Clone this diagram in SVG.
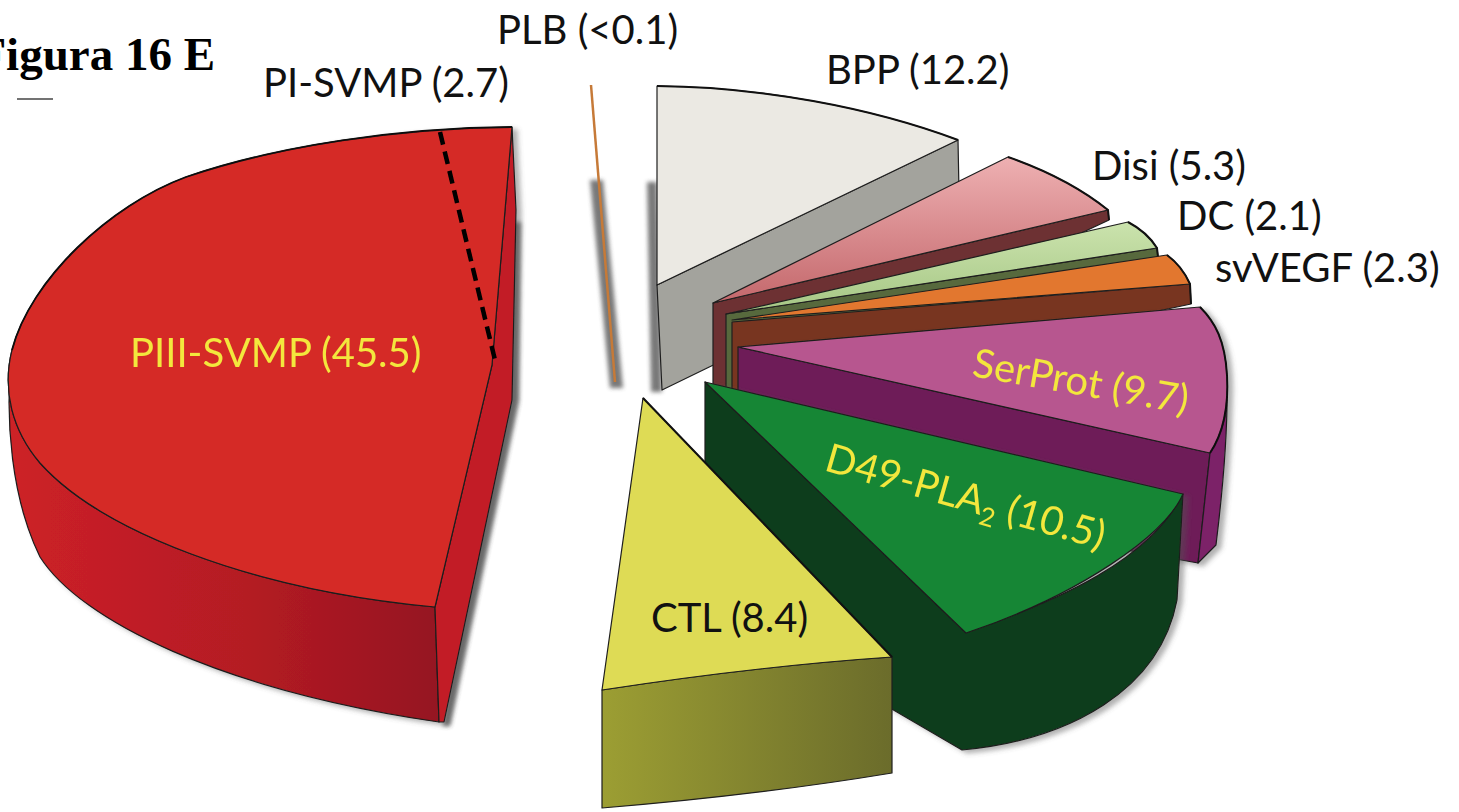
<svg xmlns="http://www.w3.org/2000/svg" width="1459" height="812" viewBox="0 0 1459 812">
<defs>
<style>
.lbl{font-family:Lato,"Open Sans","Liberation Sans",sans-serif;font-size:40px;fill:#111}
.yl{fill:#f3e73c}
.edge{stroke:#1e1e1e;stroke-width:1.2;stroke-linejoin:round}
.thick{stroke:#111;stroke-width:2;stroke-linejoin:round}
</style>
<linearGradient id="gRedWall" gradientUnits="userSpaceOnUse" x1="10" y1="0" x2="440" y2="0">
<stop offset="0" stop-color="#cd2127"/><stop offset="0.55" stop-color="#b41b24"/><stop offset="1" stop-color="#951520"/>
</linearGradient>
<linearGradient id="gCtlWall" gradientUnits="userSpaceOnUse" x1="602" y1="0" x2="892" y2="0">
<stop offset="0" stop-color="#9c9e33"/><stop offset="1" stop-color="#6b6c2b"/>
</linearGradient>
<linearGradient id="gDisi" gradientUnits="userSpaceOnUse" x1="0" y1="157" x2="0" y2="303">
<stop offset="0" stop-color="#eeb0b2"/><stop offset="1" stop-color="#c4686c"/>
</linearGradient>
<linearGradient id="gDC" gradientUnits="userSpaceOnUse" x1="0" y1="222" x2="0" y2="314">
<stop offset="0" stop-color="#cbe3ad"/><stop offset="1" stop-color="#a5c684"/>
</linearGradient>
<filter id="blur" x="-80%" y="-10%" width="260%" height="120%"><feGaussianBlur stdDeviation="2.2"/></filter>
<filter id="sh" x="-10%" y="-10%" width="125%" height="125%"><feDropShadow dx="5" dy="3" stdDeviation="2.5" flood-color="#555" flood-opacity="0.45"/></filter>
</defs>
<rect width="1459" height="812" fill="#ffffff"/>

<g id="title">
<text x="215" y="70" text-anchor="end" font-family="'Liberation Serif','Times New Roman',serif" font-weight="bold" font-size="47" fill="#000">Figura 16 E</text>
<line x1="17" y1="99" x2="53" y2="99" stroke="#444" stroke-width="1.5"/>
</g>

<g id="shadows" fill="#6a6a6a" opacity="0.9" filter="url(#blur)">
<polygon points="590,180 603,180 623,388 610,388"/>
<polygon points="647,182 657,182 662,392 651,392"/>
<polygon points="512,222 521,222 519,400 450,726 443,726"/>
</g>

<g id="slice-plb">
<line x1="591" y1="85" x2="615" y2="382" stroke="#c67a38" stroke-width="2.5"/>
<text class="lbl" x="497" y="44">PLB (&lt;0.1)</text>
</g>

<g id="slice-svmp" filter="url(#sh)">
<path class="edge" fill="url(#gRedWall)" d="M12,350 C4,420 12,500 40,557 C80,620 220,690 439,722 L435,607 C250,590 100,530 40,463 C12,430 2,390 12,350 Z"/>
<path class="edge" fill="#c21e27" d="M512,127 L516,210 L512,400 L444,722 L439,722 L435,607 L492,365 Z"/>
<path class="edge" fill="#d52b28" d="M492,365 L512,127 C400,128 280,145 186,177 C110,205 30,280 12,350 C2,390 12,430 40,463 C100,530 250,590 435,607 Z"/>
<path fill="none" stroke="#111" stroke-width="1.8" d="M512,127 C400,128 280,145 186,177 C110,205 30,280 12,350"/>
<line x1="440" y1="132" x2="495" y2="360" stroke="#000" stroke-width="4.5" stroke-dasharray="13,7"/>
<text class="lbl yl" x="130" y="367">PIII-SVMP (45.5)</text>
</g>
<text class="lbl" x="263" y="97">PI-SVMP (2.7)</text>

<g id="slice-bpp">
<path class="edge" fill="#a3a39d" d="M657,285 L958,140 L960,245 L662,390 Z"/>
<path class="edge" fill="#ebe9e3" d="M657,86 C760,87 870,107 958,140 L657,285 Z"/>
<path fill="none" stroke="#111" stroke-width="2" d="M657,86 C760,87 870,107 958,140"/>
<text class="lbl" x="826" y="84">BPP (12.2)</text>
</g>

<g id="slice-disi">
<path class="edge" fill="#6d3133" d="M713,303 L1108,210 L1109,220 L725,400 L713,400 Z"/>
<path class="edge" fill="url(#gDisi)" d="M713,303 L1008,157 Q1068,178 1108,210 Z"/>
<path fill="none" class="thick" d="M1008,157 Q1068,178 1108,210 L1109,220"/>
<text class="lbl" x="1092" y="180">Disi (5.3)</text>
</g>

<g id="slice-dc">
<path class="edge" fill="#57693d" d="M726,314 L1157,248 L1158,257 L733,400 L726,400 Z"/>
<path class="edge" fill="url(#gDC)" d="M726,314 L1128,222 Q1147,232 1157,248 Z"/>
<path fill="none" class="thick" d="M1128,222 Q1147,232 1157,248 L1158,257"/>
<text class="lbl" x="1177" y="230">DC (2.1)</text>
</g>

<g id="slice-svvegf">
<path class="edge" fill="#783520" d="M732,322 L1190,284 L1191,304 L738,400 L732,400 Z"/>
<path class="edge" fill="#e2772f" d="M732,320 L1167,255 Q1182,266 1190,284 Z"/>
<path fill="none" class="thick" d="M1167,255 Q1182,266 1190,284 L1191,304"/>
<text class="lbl" x="1215" y="282">svVEGF (2.3)</text>
</g>

<g id="slice-serprot" filter="url(#sh)">
<path class="edge" fill="#6e1a58" d="M738,347 L1210,453 L1198,563 L738,480 Z"/>
<path class="edge" fill="#7b2067" d="M1227,378 C1228,420 1224,480 1216,545 L1198,563 L1210,453 C1222,435 1229,410 1227,378 Z"/>
<path class="edge" fill="#b7578f" d="M738,347 L1200,307 C1215,322 1225,340 1227,375 C1229,410 1222,435 1210,453 Z"/>
<path fill="none" class="thick" d="M1200,307 C1215,322 1225,340 1227,375 C1229,410 1222,435 1210,453"/>
<text class="lbl yl" transform="translate(971,376) rotate(10)">SerProt (9.7)</text>
</g>

<g id="slice-d49pla2" filter="url(#sh)">
<path class="edge" fill="#0f3e1f" d="M705,382 L966,633 C1060,600 1150,560 1183,494 L1177,600 C1160,690 1070,740 962,750 L705,600 Z"/>
<path class="edge" fill="#178636" d="M705,382 L1183,494 C1165,535 1080,595 966,633 Z"/>
<text class="lbl yl" transform="translate(823,470) rotate(16)">D49-PLA<tspan font-size="26" dy="9">2</tspan><tspan dy="-9"> (10.5)</tspan></text>
</g>

<g id="slice-ctl">
<path class="edge" fill="url(#gCtlWall)" d="M602,690 Q759,666 892,657 L892,773 Q759,795 602,808 Z"/>
<path class="edge" fill="#dedb55" d="M643,398 L892,657 Q759,666 602,690 Z"/>
<path fill="none" stroke="#111" stroke-width="2" d="M643,398 L892,657"/>
<text class="lbl" x="651" y="632">CTL (8.4)</text>
</g>
</svg>
